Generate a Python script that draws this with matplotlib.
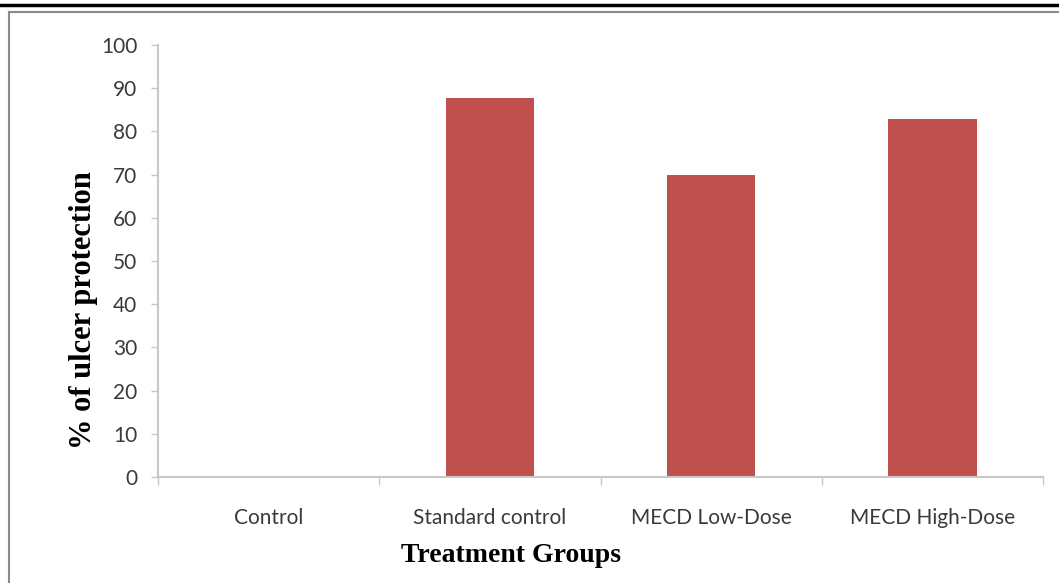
import matplotlib
matplotlib.use("Agg")
import matplotlib.pyplot as plt
from matplotlib.lines import Line2D

# Data
groups = ["Control", "Standard control", "MECD Low-Dose", "MECD High-Dose"]
protection = [0.0, 87.7, 69.9, 82.9]
y_ticks = [0, 10, 20, 30, 40, 50, 60, 70, 80, 90, 100]

W, H = 1059, 583
fig = plt.figure(figsize=(W / 100, H / 100), dpi=100)
fig.patch.set_facecolor("white")

ax = fig.add_axes([158 / W, 1 - 477 / H, (1043 - 158) / W, (477 - 45) / H])

x = range(len(groups))
ax.bar(x, protection, width=0.4, color="#C0504D", zorder=2)

ax.set_xlim(-0.5, len(groups) - 0.5)
ax.set_ylim(0, 100)
ax.set_yticks(y_ticks)
ax.set_yticklabels([str(v) for v in y_ticks], fontfamily="Lato", fontsize=15, color="#3a3a3a")

ax.set_xticks(list(x))
ax.set_xticklabels(groups, fontfamily="Lato", fontsize=15, color="#3a3a3a")
ax.tick_params(axis="x", which="major", length=0, pad=22)
ax.set_xticks([i - 0.5 for i in range(len(groups) + 1)], minor=True)
ax.tick_params(axis="x", which="minor", length=6, color="#c8c8c8", width=1)
ax.tick_params(axis="y", length=5, color="#c8c8c8", width=1, pad=10)

for s in ["top", "right"]:
    ax.spines[s].set_visible(False)
for s in ["left", "bottom"]:
    ax.spines[s].set_color("#c8c8c8")
    ax.spines[s].set_linewidth(1.5)

# Axis titles
fig.text(84 / W, 1 - 310 / H, "% of ulcer protection", rotation=90,
         ha="center", va="center", fontfamily="Liberation Serif",
         fontweight="bold", fontsize=22)
fig.text(511 / W, 1 - 556 / H, "Treatment Groups",
         ha="center", va="center", fontfamily="Liberation Serif",
         fontweight="bold", fontsize=20)

# Page rules around the chart
fig.add_artist(Line2D([0, 1], [1 - 5 / H, 1 - 5 / H], transform=fig.transFigure,
                      color="black", linewidth=2.5))
fig.add_artist(Line2D([9 / W, 1], [1 - 12 / H, 1 - 12 / H], transform=fig.transFigure,
                      color="#8a8a8a", linewidth=1.5))
fig.add_artist(Line2D([9 / W, 9 / W], [0, 1 - 12 / H], transform=fig.transFigure,
                      color="#8a8a8a", linewidth=1.5))

fig.savefig("out.png", dpi=100, facecolor="white")
